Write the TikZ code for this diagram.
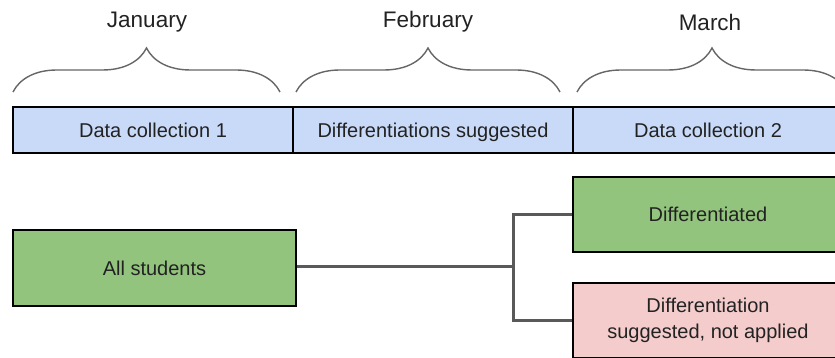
\documentclass[tikz,border=0pt]{standalone}
\usepackage{fontspec}
\setmainfont{Liberation Sans}
\usetikzlibrary{decorations.pathreplacing}
\definecolor{bluefill}{HTML}{C9DAF8}
\definecolor{greenfill}{HTML}{93C47D}
\definecolor{pinkfill}{HTML}{F4CCCC}
\definecolor{linegray}{HTML}{595959}
\definecolor{bracegray}{HTML}{666666}
\definecolor{txt}{HTML}{222222}
\tikzset{
  phasebox/.style={draw=black, line width=1.5pt, fill=bluefill, minimum height=46pt,
    inner sep=0pt, text height=15pt, text depth=0pt, text=txt, font=\fontsize{20}{24}\selectfont},
  groupbox/.style={draw=black, line width=1.5pt, minimum height=75pt, inner sep=0pt,
    text=txt, align=center, font=\fontsize{20}{26}\selectfont},
  monthlabel/.style={text=txt, font=\fontsize{22.5}{26}\selectfont, inner sep=0pt},
  bracket/.style={draw=bracegray, line width=1.4pt, decorate,
    decoration={brace, amplitude=44pt}},
  connector/.style={draw=linegray, line width=3pt, line join=miter}
}
\begin{document}
\begin{tikzpicture}[x=1pt,y=1pt]
\useasboundingbox (0,0) rectangle (835,358);
% months
\node[monthlabel] (jan) at (147,336) {January};
\node[monthlabel] (feb) at (428,336) {February};
\node[monthlabel] (mar) at (710,336) {March};
% braces
\draw[bracket] (13,266) -- (280,266);
\draw[bracket] (296,266) -- (560,266);
\draw[bracket] (577,266) -- (847,266);
% phase boxes
\node[phasebox, minimum width=280pt] (p1) at (153,228) {Data collection 1};
\node[phasebox, minimum width=280pt] (p2) at (433,228) {Differentiations suggested};
\node[phasebox, minimum width=270pt] (p3) at (708,228) {Data collection 2};
% groups
\node[groupbox, fill=greenfill, minimum width=283pt, minimum height=76pt] (all) at (154.5,90) {All students};
\node[groupbox, fill=greenfill, minimum width=270pt] (diff) at (708,143.5) {Differentiated};
\node[groupbox, fill=pinkfill, minimum width=270pt] (notapp) at (708,37.5) {Differentiation\\suggested, not applied};
% connectors
\coordinate (j) at (513,91);
\draw[connector] (all.east |- j) -- (j);
\draw[connector] (diff.west) -| (j) |- (notapp.west);
\end{tikzpicture}
\end{document}
